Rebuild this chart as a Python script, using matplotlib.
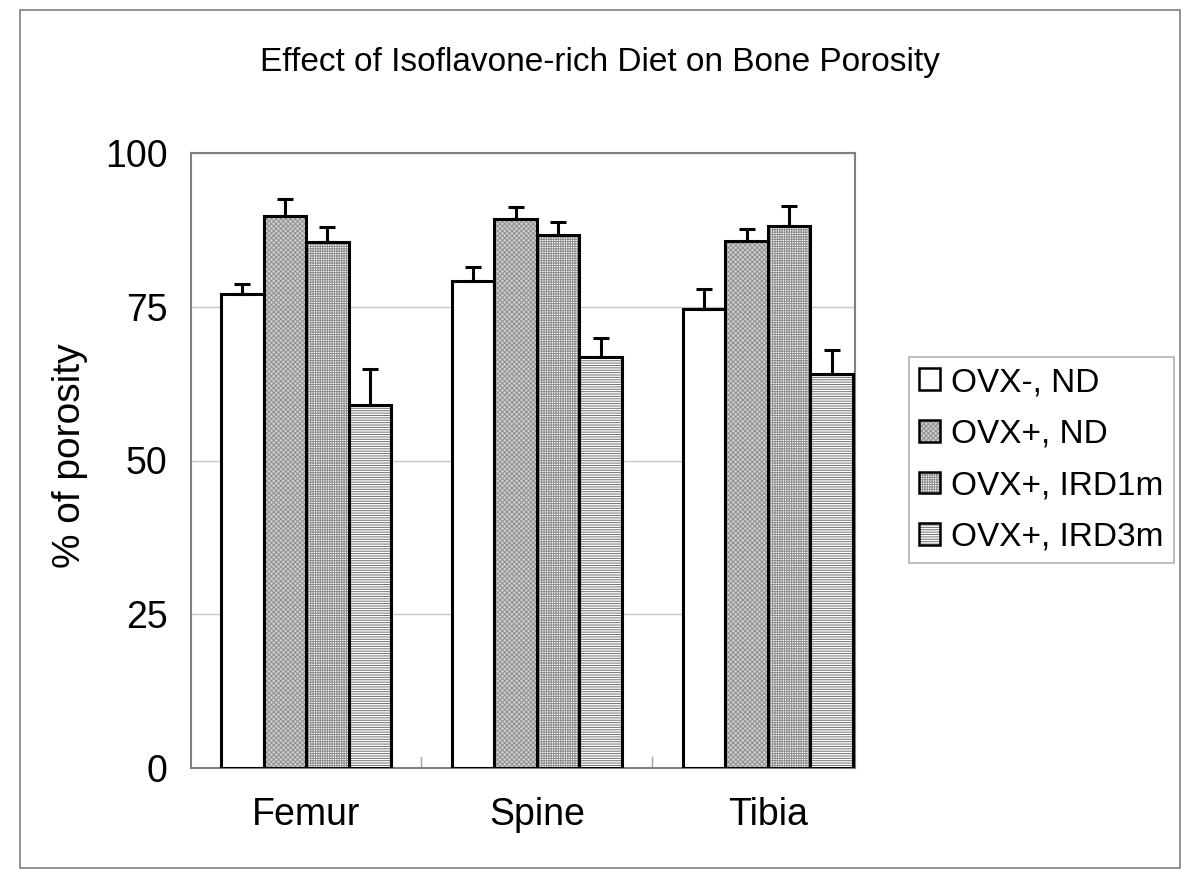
import numpy as np
import matplotlib.pyplot as plt
from matplotlib.patches import Patch

plt.rcParams['font.family'] = ['Liberation Sans', 'DejaVu Sans']
plt.rcParams['hatch.linewidth'] = 0.7

sites = ['Femur', 'Spine', 'Tibia']
groups = ['OVX-, ND', 'OVX+, ND', 'OVX+, IRD1m', 'OVX+, IRD3m']
means = {
    'OVX-, ND': [77.0, 79.2, 74.6],
    'OVX+, ND': [89.8, 89.2, 85.7],
    'OVX+, IRD1m': [85.6, 86.7, 88.1],
    'OVX+, IRD3m': [59.0, 66.8, 64.0],
}
errs = {
    'OVX-, ND': [1.7, 2.3, 3.3],
    'OVX+, ND': [2.7, 2.0, 2.0],
    'OVX+, IRD1m': [2.4, 2.1, 3.3],
    'OVX+, IRD3m': [5.9, 3.2, 4.0],
}
yticks = [0, 25, 50, 75, 100]

faces = ['white', '#d0d0d0', 'white', 'white']
hatches = [None, 'xxxxxxx', '+++++++', '-------']
hatch_cols = ['white', '#909090', '#8c8c8c', '#707070']

fig = plt.figure(figsize=(12, 8.83), dpi=100)
ax = fig.add_axes([191 / 1200, 1 - 768 / 883, 664 / 1200, 615 / 883])

x = np.arange(len(sites))
w = 0.184
handles = []
for i, g in enumerate(groups):
    pos = x + (i - 1.5) * w
    # pattern first, outline on top
    ax.bar(pos, means[g], width=w, color=faces[i], edgecolor=hatch_cols[i], linewidth=0,
           hatch=hatches[i], zorder=3)
    ax.bar(pos, means[g], width=w, fill=False, edgecolor='black', linewidth=2.2, zorder=3.5)
    ax.errorbar(pos, means[g], yerr=[np.zeros(3), errs[g]], fmt='none', ecolor='black',
                elinewidth=2.2, capsize=6, capthick=2.2, zorder=4)
    handles.append((Patch(facecolor=faces[i], edgecolor=hatch_cols[i], hatch=hatches[i], lw=0),
                    Patch(fill=False, edgecolor='black', lw=1.8)))

ax.set_xlim(-0.498, 2.377)
ax.set_ylim(0, 100)
ax.set_yticks(yticks)
ax.set_yticklabels([str(v) for v in yticks], fontsize=27)
ax.set_xticks(x)
ax.set_xticklabels(sites, fontsize=27)
ax.tick_params(axis='x', length=0, pad=21)
ax.tick_params(axis='y', length=0, pad=17)
for v in [0.5, 1.5]:
    ax.plot([v, v], [0, 1.8], color='#a0a0a0', lw=1, zorder=2)
ax.yaxis.grid(True, color='#c8c8c8', lw=1, zorder=0)
for s in ax.spines.values():
    s.set_color('#808080')
    s.set_linewidth(1.5)

fig.text(70 / 1200, 1 - 456 / 883, '% of porosity', rotation=90, ha='center', va='center', fontsize=28)
fig.text(0.5, 1 - 62 / 883, 'Effect of Isoflavone-rich Diet on Bone Porosity', ha='center', va='center',
         fontsize=24)

leg = fig.legend(handles, groups, loc='center left', bbox_to_anchor=(909 / 1200, 1 - 460 / 883),
                 fontsize=24, frameon=True, fancybox=False, edgecolor='#a0a0a0', handlelength=0.62,
                 handleheight=0.62, handletextpad=0.35, labelspacing=0.62, borderpad=0.3,
                 borderaxespad=0)
leg.get_frame().set_linewidth(1.2)

fig.patches.append(plt.Rectangle((20 / 1200, 1 - 868 / 883), 1160 / 1200, 858 / 883,
                                 transform=fig.transFigure, fill=False, edgecolor='#808080', lw=1.2))

fig.savefig('out.png', dpi=100)
